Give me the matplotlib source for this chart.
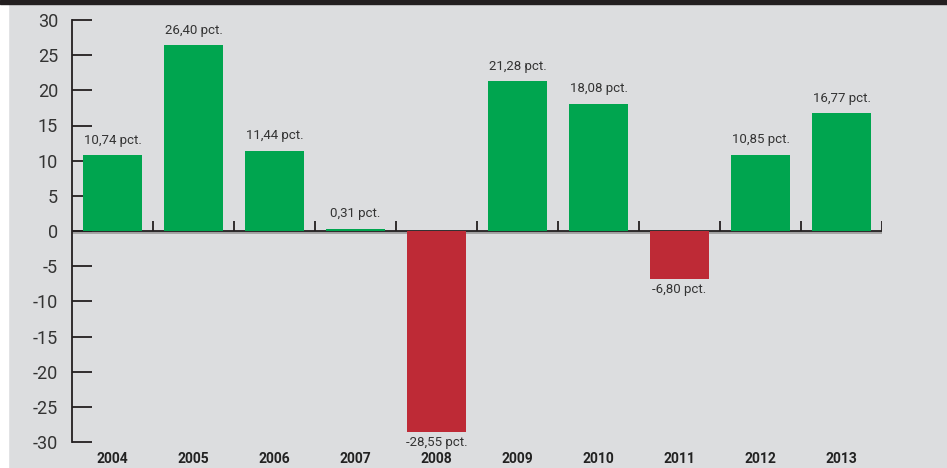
import matplotlib
matplotlib.use("Agg")
import matplotlib.pyplot as plt
from matplotlib.patches import Rectangle

years = ['2004', '2005', '2006', '2007', '2008', '2009', '2010', '2011', '2012', '2013']
returns = [10.74, 26.40, 11.44, 0.31, -28.55, 21.28, 18.08, -6.80, 10.85, 16.77]

plt.rcParams['font.family'] = ['Roboto', 'DejaVu Sans']
plt.rcParams['axes.unicode_minus'] = False

bg = '#dcdddf'
green = '#00a54f'
red = '#be2a36'
txt = '#333333'

W, H = 947, 468
fig = plt.figure(figsize=(W / 100, H / 100), dpi=100)
fig.patch.set_facecolor(bg)
# white strip on left, dark strip on top
fig.patches.append(Rectangle((0, 0), 8 / W, 1, transform=fig.transFigure, color='white', zorder=0))
fig.patches.append(Rectangle((0, 1 - 4 / H), 1, 4 / H, transform=fig.transFigure, color='#231f20', zorder=0))

ax = fig.add_axes([72 / W, (H - 442) / H, 810 / W, 422 / H])
ax.set_facecolor(bg)

x = list(range(len(years)))
colors = [green if v >= 0 else red for v in returns]
ax.bar(x, returns, width=0.73, color=colors, zorder=4)

for i, v in enumerate(returns):
    lab = ('%.2f' % v).replace('.', ',') + ' pct.'
    if v >= 0:
        ax.text(i, v + 1.2, lab, ha='center', va='bottom', fontsize=9.5, color=txt)
    else:
        ax.text(i, v - 0.6, lab, ha='center', va='top', fontsize=9.5, color=txt)

# zero line with small boundary ticks
ax.plot([-0.5, 9.5], [-0.15, -0.15], color='#a0a0a0', lw=2, zorder=1, solid_capstyle='butt')
ax.axhline(0, color='#231f20', lw=1.3, zorder=3)
ax.vlines([b + 0.5 for b in x], 0, 1.4, color='#231f20', lw=1.3, zorder=3)

ax.set_xlim(-0.5, 9.5)
ax.set_ylim(-30, 30)
ax.set_yticks(range(-30, 31, 5))
ax.set_xticks(x)
ax.set_xticklabels(years, fontweight='bold', fontsize=10)

for s in ['top', 'right', 'bottom']:
    ax.spines[s].set_visible(False)
ax.spines['left'].set_color('#231f20')
ax.spines['left'].set_linewidth(1.3)
ax.tick_params(axis='y', direction='in', length=14.5, width=1.3, color='#231f20',
               labelsize=13, labelcolor=txt, pad=10)
ax.tick_params(axis='x', length=0, pad=7, labelcolor='#222222')

fig.savefig('out.png', dpi=100, facecolor=bg)
